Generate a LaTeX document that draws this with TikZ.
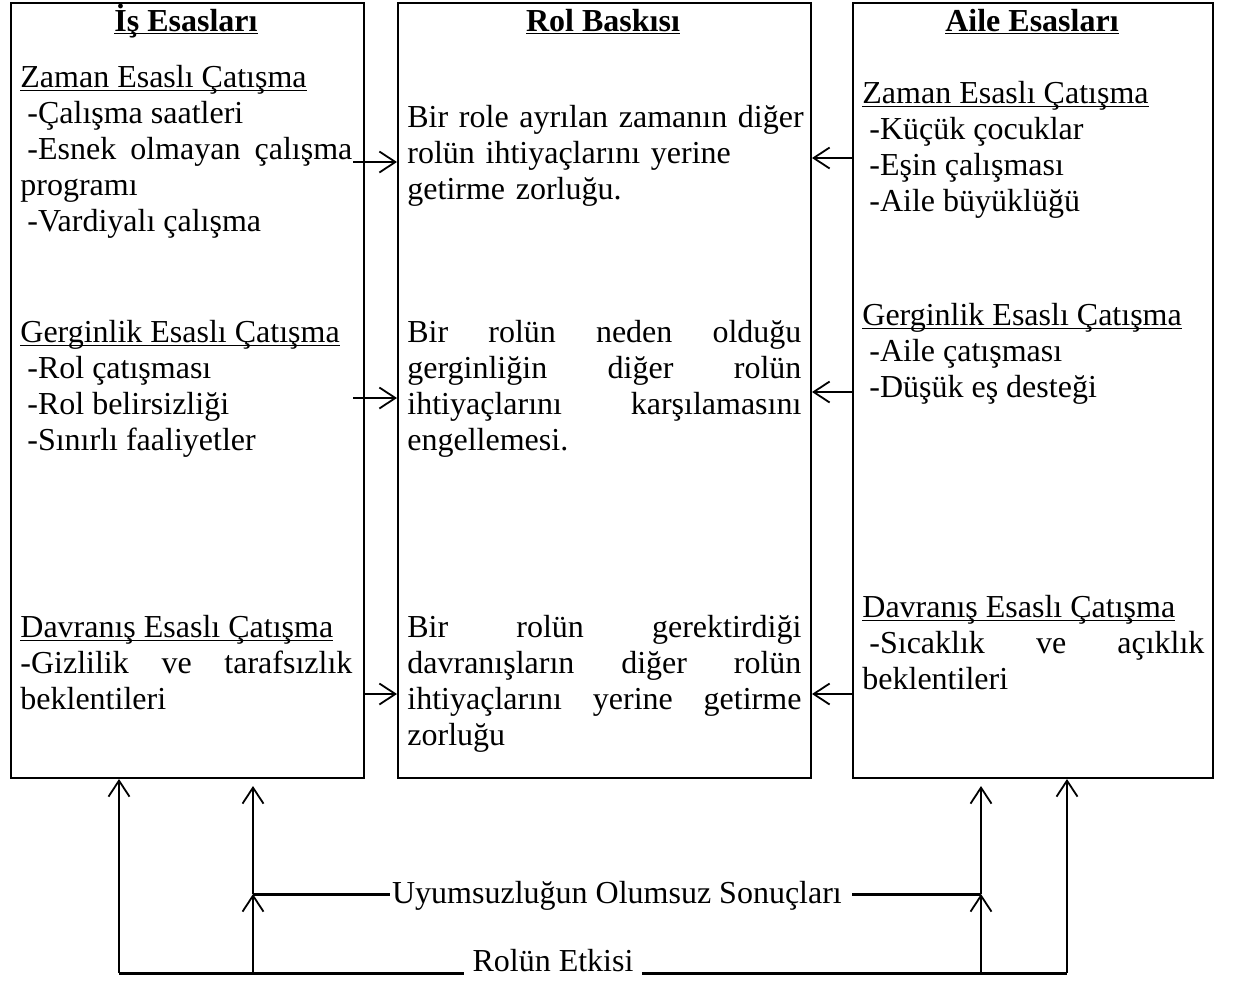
\documentclass[tikz,border=0pt]{standalone}
\usepackage{fontspec}
\setmainfont{Liberation Serif}
\usetikzlibrary{arrows.meta}
\newcommand{\alti}[1]{\underline{\smash{#1}}}
\hyphenpenalty=10000

\begin{document}
\begin{tikzpicture}[x=0.5pt,y=-0.5pt,
  kutu/.style={draw,line width=1pt,inner sep=0pt,anchor=north west,minimum height=387.5pt},
  baslik/.style={anchor=base,font=\fontsize{16}{18}\selectfont\bfseries},
  blok/.style={anchor=north west,inner sep=0pt,align=justify,font=\fontsize{16}{18}\selectfont},
  ok/.style={line width=0.9pt,-{Straight Barb[length=8pt,width=10.5pt]}},
  hat/.style={line width=1.5pt},
  alt/.style={font=\fontsize{16}{19}\selectfont,anchor=base}]
  \useasboundingbox (0,0) rectangle (1237,980);

  \node[kutu,minimum width=176.5pt] (is) at (10,2) {};
  \node[kutu,minimum width=206.5pt] (rol) at (397,2) {};
  \node[kutu,minimum width=180pt] (aile) at (852,2) {};

  \node[baslik] (isB) at (186,31) {\alti{İş Esasları}};
  \node[baslik] (rolB) at (603,31) {\alti{Rol Baskısı}};
  \node[baslik] (aileB) at (1032,31) {\alti{Aile Esasları}};

  \node[blok,text width=166pt] (isZaman) at (20,62) {\strut\alti{Zaman Esaslı Çatışma}\\
    \hspace*{3.5pt}-Çalışma saatleri\\
    \hspace*{3.5pt}-Esnek olmayan çalışma\linebreak programı\\
    \hspace*{3.5pt}-Vardiyalı çalışma};
  \node[blok,text width=166pt] (isGerg) at (20,317) {\strut\alti{Gerginlik Esaslı Çatışma}\\
    \hspace*{3.5pt}-Rol çatışması\\
    \hspace*{3.5pt}-Rol belirsizliği\\
    \hspace*{3.5pt}-Sınırlı faaliyetler};
  \node[blok,text width=166pt] (isDavr) at (20,612) {\strut\alti{Davranış Esaslı Çatışma}\\
    -Gizlilik ve tarafsızlık\linebreak beklentileri};

  \node[blok,text width=199pt,align=left] (rolZaman) at (407,102) {\strut Bir role ayrılan zamanın diğer\\
    rolün ihtiyaçlarını yerine\\ getirme zorluğu.};
  \node[blok,text width=197pt] (rolGerg) at (407,317) {\strut Bir rolün neden olduğu\linebreak
    gerginliğin diğer rolün\linebreak ihtiyaçlarını karşılamasını\linebreak engellemesi.};
  \node[blok,text width=197pt] (rolDavr) at (407,612) {\strut Bir rolün gerektirdiği\linebreak
    davranışların diğer rolün\linebreak ihtiyaçlarını yerine getirme\linebreak zorluğu};

  \node[blok,text width=171pt] (aileZaman) at (862,78) {\strut\alti{Zaman Esaslı Çatışma}\\
    \hspace*{3.5pt}-Küçük çocuklar\\
    \hspace*{3.5pt}-Eşin çalışması\\
    \hspace*{3.5pt}-Aile büyüklüğü};
  \node[blok,text width=171pt] (aileGerg) at (862,300) {\strut\alti{Gerginlik Esaslı Çatışma}\\
    \hspace*{3.5pt}-Aile çatışması\\
    \hspace*{3.5pt}-Düşük eş desteği};
  \node[blok,text width=171pt] (aileDavr) at (862,592) {\strut\alti{Davranış Esaslı Çatışma}\\
    \hspace*{3.5pt}-Sıcaklık ve açıklık\linebreak beklentileri};

  \coordinate (r1) at (0,162);
  \coordinate (r2) at (0,398);
  \coordinate (r3) at (0,694);
  \coordinate (s1) at (0,158);
  \coordinate (s2) at (0,392);
  \coordinate (s3) at (0,694);
  \draw[ok] ([xshift=-6pt]is.east |- r1) -- (rol.west |- r1);
  \draw[ok] ([xshift=-6pt]is.east |- r2) -- (rol.west |- r2);
  \draw[ok] (is.east |- r3) -- (rol.west |- r3);
  \draw[ok] (aile.west |- s1) -- (rol.east |- s1);
  \draw[ok] (aile.west |- s2) -- (rol.east |- s2);
  \draw[ok] (aile.west |- s3) -- (rol.east |- s3);

  \node[alt,inner xsep=1pt] (uyum) at (617,903) {Uyumsuzluğun Olumsuz Sonuçları};
  \node[alt,inner xsep=4pt] (etki) at (553,971) {Rolün Etkisi};

  \coordinate (ja) at (253,894);
  \coordinate (jb) at (981,894);
  \coordinate (ta) at (253,786);
  \coordinate (tb) at (981,786);
  \coordinate (b1) at (119,973);
  \coordinate (b2) at (253,973);
  \coordinate (b3) at (981,973);
  \coordinate (b4) at (1067,973);

  \draw[hat] (b1) -- (etki.west |- b1);
  \draw[hat] (etki.east |- b4) -- (b4);
  \draw[hat] (ja) -- (uyum.west |- ja);
  \draw[hat] ([xshift=4pt]uyum.east |- jb) -- (jb);
  \draw[ok] (b1) -- (is.south -| b1);
  \draw[ok] (b4) -- (aile.south -| b4);
  \draw[ok] (b2) -- (ja);
  \draw[ok] (ja) -- (ta);
  \draw[ok] (b3) -- (jb);
  \draw[ok] (jb) -- (tb);
\end{tikzpicture}
\end{document}
